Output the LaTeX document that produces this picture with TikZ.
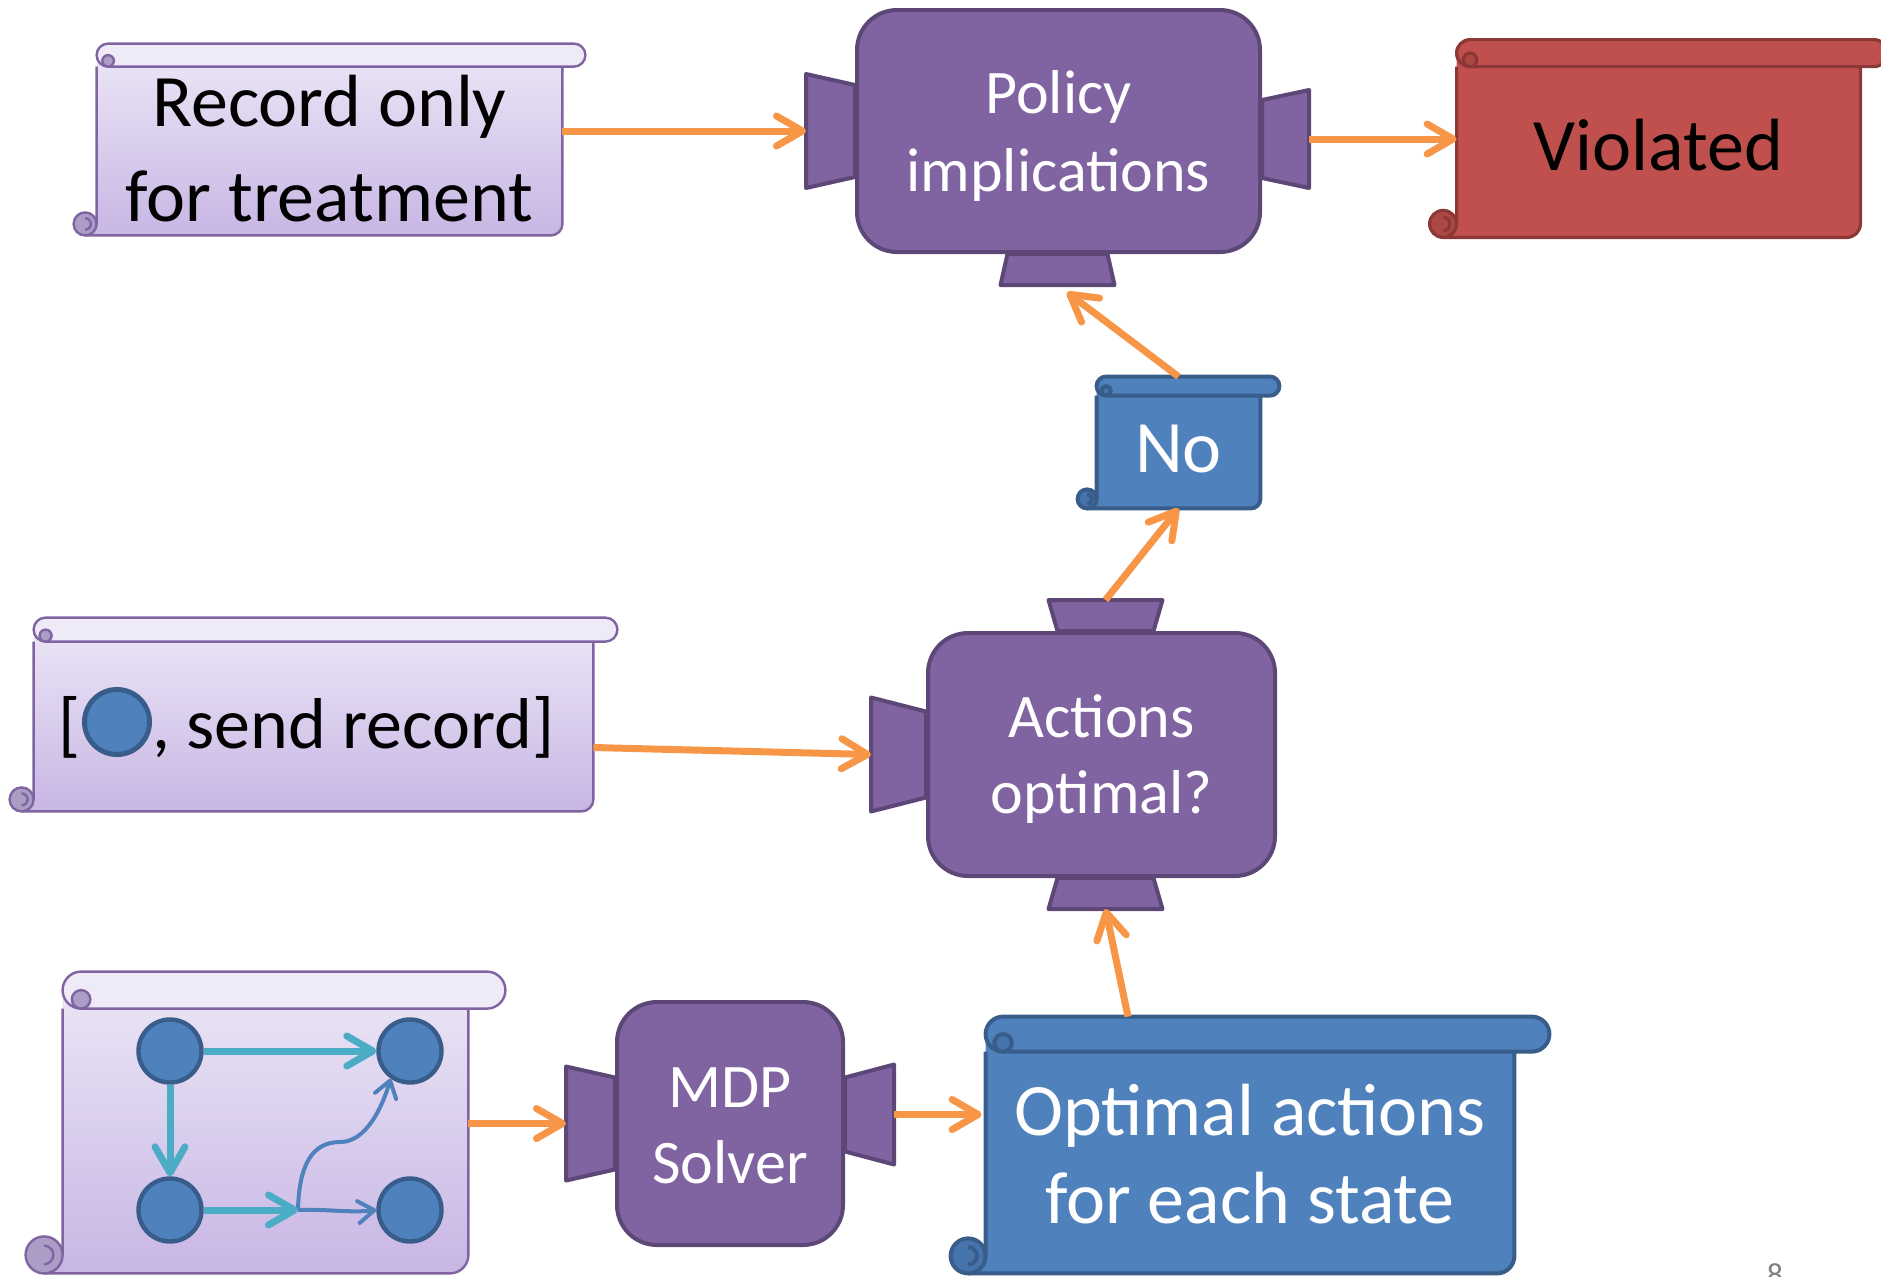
\documentclass[tikz,border=0pt]{standalone}
\usepackage{fontspec}
\setmainfont{Carlito}
\usepackage{tikz}
\usetikzlibrary{arrows.meta, calc}

\definecolor{purp}{HTML}{8064A2}
\definecolor{purpline}{HTML}{5C4776}
\definecolor{lavtop}{HTML}{EBE5F6}
\definecolor{lavbot}{HTML}{C8B6E4}
\definecolor{lavroll}{HTML}{EFEAF8}
\definecolor{lavcurl}{HTML}{AB9DC6}
\definecolor{lavline}{HTML}{8064A2}
\definecolor{blu}{HTML}{4F81BD}
\definecolor{bluline}{HTML}{385D8A}
\definecolor{blucurl}{HTML}{4674AC}
\definecolor{rd}{HTML}{C0504D}
\definecolor{rdline}{HTML}{8C3836}
\definecolor{rdcurl}{HTML}{AC4744}
\definecolor{orng}{HTML}{F79646}
\definecolor{tealc}{HTML}{4BACC6}

\pgfdeclarelayer{background}
\pgfsetlayers{background,main}

% scroll drawn behind a body node: node, roll size, colour set
\newcommand\scrollshape[3]{%
  \pgfmathsetlengthmacro\scrc{#2}%
  \pgfmathsetlengthmacro\scrh{#2/2}%
  \pgfmathsetlengthmacro\scrq{#2/4}%
  \path[#3 body] let \p1=(#1.north west), \p2=(#1.south east) in
    (\x1,\y1+\scrh) -- (\x1,\y2+\scrh) -- (\x1-\scrh,\y2+\scrh) -- (\x1-\scrh,\y2)
    -- (\x2-\scrh,\y2) arc[start angle=-90, end angle=0, radius=\scrh] -- (\x2,\y1+\scrh) -- cycle;
  \draw[#3 edge] let \p1=(#1.north west), \p2=(#1.south east) in
    (\x1,\y1) -- (\x1,\y2+\scrh)
    (\x1-\scrh,\y2) -- (\x2-\scrh,\y2) arc[start angle=-90, end angle=0, radius=\scrh] -- (\x2,\y1);
  \filldraw[#3 edge, #3 curl] let \p2=(#1.south west) in
    (\x2-\scrh,\y2+\scrh) circle[radius=\scrh];
  \draw[#3 edge] let \p2=(#1.south west) in
    (\x2-\scrh,\y2+\scrh+\scrq) arc[start angle=90, end angle=-90, radius=\scrq];
  \filldraw[#3 edge, #3 roll, rounded corners=\scrh] let \p1=(#1.north west), \p2=(#1.north east) in
    (\x1,\y1) rectangle (\x2+\scrc,\y1+\scrc);
  \filldraw[#3 edge, #3 curl] let \p1=(#1.north west) in
    (\x1+\scrh,\y1+\scrq) circle[radius=\scrq];
  \coordinate (#1-top) at ([yshift=\scrc]#1.north);
}

% side lens of a camera box: name, anchor, offset, inner half, outer half, depth
\newcommand\lensH[6]{%
  \draw[lens] ($(#2)+(0,{#3-#4})$) -- ++(#6,{#4-#5}) -- ++(0,{2*#5}) -- ++({-(#6)},{#4-#5}) -- cycle;
  \coordinate (#1) at ($(#2)+(#6,#3)$);
}
\newcommand\lensV[6]{%
  \draw[lens] ($(#2)+({#3-#4},0)$) -- ++({#4-#5},#6) -- ++({2*#5},0) -- ++({#4-#5},{-(#6)}) -- cycle;
  \coordinate (#1) at ($(#2)+(#3,#6)$);
}

\begin{document}
\begin{tikzpicture}[
        x=0.5pt, y=-0.5pt,
        camera/.style={draw=purpline, fill=purp, line width=2pt, rounded corners=20pt, inner sep=0pt, align=center, text=white},
        lens/.style={draw=purpline, fill=purp, line width=2pt, line join=round},
        scrollbox/.style={inner sep=0pt, align=center},
        lav body/.style={top color=lavtop, bottom color=lavbot},
        lav roll/.style={fill=lavroll},
        lav curl/.style={fill=lavcurl},
        lav edge/.style={draw=lavline, line width=1.2pt},
        blu body/.style={fill=blu},
        blu roll/.style={fill=blu},
        blu curl/.style={fill=blucurl},
        blu edge/.style={draw=bluline, line width=2pt},
        rd body/.style={fill=rd},
        rd roll/.style={fill=rd},
        rd curl/.style={fill=rdcurl},
        rd edge/.style={draw=rdline, line width=1.6pt},
        state/.style={circle, draw=bluline, fill=blu, line width=2.2pt, minimum size=31.5pt, inner sep=0pt},
        flow/.style={draw=orng, line width=3.5pt, -{Straight Barb[length=13pt, width=15pt, round]}},
        link/.style={draw=tealc, line width=3.5pt, -{Straight Barb[length=13pt, width=15pt, round]}},
        sublink/.style={draw=blu, line width=2pt, -{Straight Barb[length=8pt, width=11pt, round]}},
    ]
        \useasboundingbox (0,0) rectangle (1881,1276);

        % boxes
        \node[scrollbox, font=\fontsize{37}{47.5}\selectfont, text height=77pt, text depth=7pt, minimum width=232.5pt] (rec) at (329.5,151) {Record only\\for treatment};
        \node[camera, font=\fontsize{31}{39}\selectfont, text height=90.5pt, text depth=30.5pt, minimum width=201.5pt] (pol) at (1058.5,131) {Policy\\implications};
        \node[scrollbox, font=\fontsize{37}{44}\selectfont, text height=51.5pt, text depth=33.5pt, minimum width=201.5pt] (vio) at (1658.5,152) {Violated};
        \node[scrollbox, text=white, font=\fontsize{37}{44}\selectfont, text height=38pt, text depth=18pt, minimum width=81.5pt] (no) at (1178.5,452) {No};
        \node[scrollbox, minimum width=279.5pt, minimum height=84.5pt] (snd) at (313.5,726.5) {};
        \node[scrollbox, font=\fontsize{36}{44}\selectfont, anchor=base west] (lbr) at (58,748) {[};
        \node[state, minimum size=32.5pt, line width=2.5pt] (dot) at (117,722) {};
        \node[scrollbox, font=\fontsize{36}{44}\selectfont, anchor=base west] (snt) at (dot.east |- lbr.base) {, send record]};
        \node[camera, font=\fontsize{31}{38}\selectfont, text height=90pt, text depth=31.5pt, minimum width=173.5pt] (act) at (1101.5,754.5) {Actions\\optimal?};
        \node[scrollbox, minimum width=202.5pt, minimum height=132pt] (gph) at (265.5,1141) {};
        \node[camera, font=\fontsize{31}{38}\selectfont, text height=90.5pt, text depth=31pt, minimum width=113pt] (mdp) at (730,1123.5) {MDP\\Solver};
        \node[scrollbox, text=white, font=\fontsize{37}{44}\selectfont, text height=85.5pt, text depth=25pt, minimum width=264pt] (opt) at (1250,1162.5) {Optimal actions\\for each state};
        \node[inner sep=0pt, anchor=north, text=gray, font=\fontsize{16}{16}\selectfont] (pg) at (1775,1263) {8};

        % small state graph
        \node[state] (g1) at (170,1051) {};
        \node[state] (g2) at (410,1051) {};
        \node[state] (g3) at (170,1210) {};
        \node[state] (g4) at (410,1210) {};
        \coordinate (j) at (298,1210);

        \begin{pgfonlayer}{background}
            \scrollshape{rec}{11.5pt}{lav}
            \scrollshape{snd}{12pt}{lav}
            \scrollshape{gph}{18.5pt}{lav}
            \scrollshape{vio}{13.5pt}{rd}
            \scrollshape{no}{9.5pt}{blu}
            \scrollshape{opt}{17.5pt}{blu}
            \lensH{pol-w}{pol.west}{0}{46}{57}{-49}
            \lensH{pol-e}{pol.east}{8}{39}{49}{47}
            \lensV{pol-s}{pol.south}{-1}{50}{57}{31}
            \lensH{act-w}{act.west}{0}{43}{57}{-55}
            \lensV{act-n}{act.north}{4}{48}{57}{-31}
            \lensV{act-s}{act.south}{4}{48}{57}{31}
            \lensH{mdp-w}{mdp.west}{0}{46}{57}{-49}
            \lensH{mdp-e}{mdp.east}{-9}{37}{50}{49}
        \end{pgfonlayer}

        \draw[sublink] (j) .. controls (299,1165) and (312,1142) .. (340,1142) .. controls (366,1142) and (382,1108) .. (g2.-125);
        \draw[sublink] (j) .. controls (330,1209) and (350,1213) .. (g4.west);
        \draw[link] (g1) -- (g2);
        \draw[link] (g1) -- (g3);
        \draw[link] (g3.east) -- (j);

        \draw[flow] (rec.east |- pol-w) -- (pol-w);
        \draw[flow] (pol-e) -- (vio.west |- pol-e);
        \draw[flow, shorten >=6pt] (no-top) -- (pol-s);
        \draw[flow] (act-n) -- (no.south);
        \draw[flow] ([yshift=-10.5pt]snd.east) -- (act-w);
        \draw[flow] (gph.east |- mdp-w) -- (mdp-w);
        \draw[flow, shorten >=2pt] (mdp-e) -- (opt.west |- mdp-e);
        \draw[flow] ($(opt-top)+(-122,0)$) -- (act-s);
    \end{tikzpicture}
\end{document}
